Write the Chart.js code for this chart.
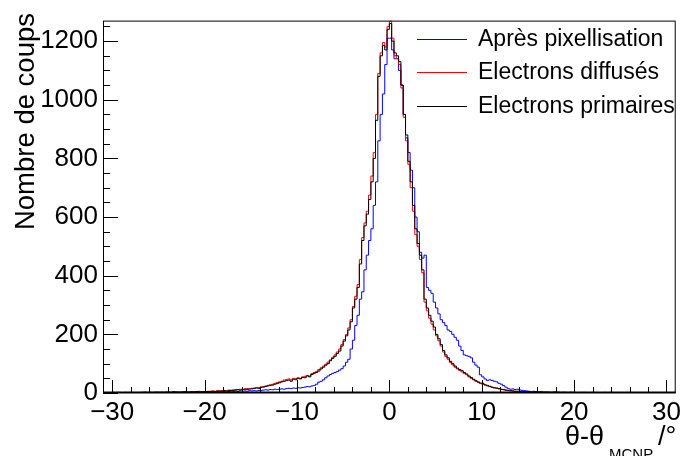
<!DOCTYPE html>
<html>
<head>
<meta charset="utf-8">
<script src="https://cdn.jsdelivr.net/npm/chart.js@4/dist/chart.umd.min.js"></script>
<style>
  html, body { margin: 0; padding: 0; background: #fff; }
  #wrap { width: 685px; height: 456px; }
</style>
</head>
<body>
<div id="wrap"><canvas id="hist" width="685" height="456"></canvas></div>
<script>
// histogram binning (degrees)
const binMin = -31;
const binWidth = 0.25;

const xTicks = [-30, -20, -10, 0, 10, 20, 30];
const yTicks = [0, 200, 400, 600, 800, 1000, 1200];

const seriesNames = ['Après pixellisation', 'Electrons diffusés', 'Electrons primaires'];

// counts per 0.25° bin, from -31° to +31°
const pixelCounts = [
  0,1,0,0,
  0,1,0,1,1,0,1,2,1,0, 1,1,0,2,1,1,2,1,1,2, 1,2,1,2,2,1,2,3,2,2, 3,2,2,3,2,3,3,2,4,3,
  3,4,3,4,3,5,4,4,5,4, 5,6,5,6,5,7,6,7,6,8,
  7,8,7,9,8,10,11,10,12,11,13,12,
  13,14,13,15,16,15,17,16,
  18,17,19,20,22,21,24,26,
  30,37,40,45,52,58,63,67,
  70,73,78,83,
  92,105,115,150,
  180,230,265,320,
  345,420,470,520,
  560,640,720,860,
  950,1020,1120,1210,
  1210,1170,1140,1140,
  1100,1050,950,870,
  820,760,700,600,
  550,480,460,470,
  360,350,340,310,
  290,270,250,240,
  230,215,210,200,
  190,180,160,145,
  130,127,125,120,
  105,95,88,62,
  55,48,43,45,
  43,40,38,33,
  30,25,20,15,
  13,14,12,13,
  10,9,8,7,
  6,5,6,5,4,5,4,3,4,3, 3,4,2,3,2,3,2,2,3,2,
  2,1,2,1,2,1,1,2,1,1, 0,1,1,2,1,0,1,1,0,1, 1,0,1,0,1,1,0,0,1,0, 1,0,0,1,0,1,0,0,1,0,
  0,0,1,0
];

const diffusedCounts = [
  1,1,0,1,
  2,1,1,2,1,2,2,1,1,2, 2,1,2,3,2,2,3,2,3,2, 3,2,3,4,3,3,4,3,4,3, 4,5,4,4,5,4,5,6,5,5,
  5,6,6,7,6,8,7,8,9,8, 10,9,11,12,11,13,12,14,15,14,
  16,17,19,18,21,22,24,26,28,30,33,36,
  38,40,44,46,48,45,50,49,
  52,50,55,57,60,58,66,70,
  74,80,86,92,98,105,113,122,
  130,140,150,165,
  182,200,222,250,
  295,330,370,455,
  530,580,620,675,
  740,820,950,1090,
  1160,1195,1180,1250,
  1268,1210,1150,1140,
  1120,1040,940,860,
  780,700,620,540,
  500,455,410,310,
  280,255,235,215,
  195,178,160,140,
  125,115,104,96,
  88,82,77,72,
  66,62,55,50,
  45,40,36,32,
  30,27,24,22,
  19,17,16,14,
  12,11,9,8,
  7,7,6,5,
  5,4,4,4,
  3,4,3,2,3,2,3,2,2,1, 2,2,1,2,1,1,2,1,1,1,
  1,0,1,1,2,0,1,1,0,1, 1,0,1,0,1,1,0,1,0,0, 1,0,1,0,0,1,0,0,1,0, 0,1,0,1,0,0,1,0,0,1,
  1,0,0,1
];

const primaryCounts = [
  1,0,1,0,
  1,0,2,1,1,2,1,0,2,1, 1,2,2,1,3,2,1,2,2,3, 2,3,2,2,3,2,4,3,2,3, 3,4,3,3,4,3,5,4,4,5,
  4,5,4,6,5,6,7,6,8,7, 8,9,8,10,11,10,12,13,12,14,
  14,15,17,16,19,20,22,24,26,27,30,32,
  35,38,40,42,44,40,47,45,
  50,48,53,52,58,55,63,67,
  70,75,82,88,95,100,110,118,
  125,135,143,160,
  177,195,215,243,
  290,320,360,440,
  520,570,610,660,
  720,800,930,1080,
  1150,1185,1170,1240,
  1260,1200,1160,1150,
  1130,1050,950,880,
  790,720,640,560,
  510,470,420,320,
  290,265,245,225,
  200,185,165,145,
  130,120,108,100,
  92,85,80,76,
  70,65,58,53,
  47,42,38,34,
  33,28,26,23,
  20,18,17,15,
  13,12,10,9,
  8,7,6,6,
  5,4,5,4,
  4,3,3,4,2,3,2,3,2,2, 1,2,3,1,2,1,2,1,1,2,
  1,1,0,2,1,1,0,1,2,1, 0,1,1,0,1,2,0,1,0,1, 1,0,0,1,1,0,1,0,0,1, 0,1,0,0,1,0,0,1,0,0,
  0,1,0,0
];

const FONT = '"Liberation Sans", Arial, Helvetica, sans-serif';

// bin edges -> points for a stepped line
function toSteps(counts) {
  const pts = counts.map((c, i) => ({ x: binMin + i * binWidth, y: c }));
  pts.push({ x: binMin + counts.length * binWidth, y: counts[counts.length - 1] });
  return pts;
}

function histSet(label, counts, color, order) {
  return {
    label,
    data: toSteps(counts),
    borderColor: color,
    borderWidth: 1,
    stepped: true,
    pointRadius: 0,
    fill: false,
    order,
  };
}

// ROOT-like frame, inner ticks, legend and axis titles
const rootDecor = {
  id: 'rootDecor',
  afterDraw(chart) {
    const { ctx, chartArea: a, scales: { x, y } } = chart;
    ctx.save();
    ctx.strokeStyle = '#000';
    ctx.lineWidth = 1;
    ctx.strokeRect(a.left + 0.5, a.top + 0.5, a.right - a.left - 1, a.bottom - a.top - 1);
    ctx.beginPath();
    ctx.moveTo(a.left, a.bottom - 0.5);
    ctx.lineTo(a.right, a.bottom - 0.5);
    ctx.lineWidth = 2;
    ctx.stroke();

    ctx.lineWidth = 1;
    ctx.beginPath();
    for (let v = 0; v <= y.max; v += 50) {
      const py = Math.round(y.getPixelForValue(v)) + 0.5;
      const len = v % 200 === 0 ? 15 : 7;
      ctx.moveTo(a.left, py);
      ctx.lineTo(a.left + len, py);
    }
    for (let v = -30; v <= 30; v += 2) {
      const px = Math.round(x.getPixelForValue(v)) + 0.5;
      const len = v % 10 === 0 ? 13 : 6;
      ctx.moveTo(px, a.bottom);
      ctx.lineTo(px, a.bottom - len);
    }
    ctx.stroke();

    // legend
    ctx.font = '23px ' + FONT;
    ctx.fillStyle = '#000';
    ctx.textAlign = 'left';
    ctx.textBaseline = 'middle';
    const rows = [39, 72, 106];
    chart.data.datasets.forEach((ds, i) => {
      ctx.beginPath();
      ctx.strokeStyle = ds.borderColor;
      ctx.moveTo(417, rows[i] + 0.5);
      ctx.lineTo(467, rows[i] + 0.5);
      ctx.stroke();
      ctx.fillText(ds.label, 478, rows[i] + 1);
    });

    // y title
    ctx.save();
    ctx.translate(26, 13);
    ctx.rotate(-Math.PI / 2);
    ctx.font = '27.5px ' + FONT;
    ctx.textAlign = 'right';
    ctx.textBaseline = 'middle';
    ctx.fillText('Nombre de coups', 0, 0);
    ctx.restore();

    // x title: θ-θ_MCNP /°
    const big = '27px ' + FONT, small = '15px ' + FONT;
    ctx.textAlign = 'left';
    ctx.textBaseline = 'alphabetic';
    ctx.font = big;
    ctx.fillText('θ-θ', 565, 445);
    ctx.font = small;
    ctx.fillText('MCNP', 609, 459);
    ctx.font = big;
    ctx.fillText('/°', 658, 445);
    ctx.restore();
  },
};

new Chart(document.getElementById('hist'), {
  type: 'line',
  data: {
    datasets: [
      histSet(seriesNames[0], pixelCounts, '#0000ff', 2),
      histSet(seriesNames[1], diffusedCounts, '#ff0000', 1),
      histSet(seriesNames[2], primaryCounts, '#000000', 0),
    ],
  },
  options: {
    responsive: false,
    animation: false,
    devicePixelRatio: 1,
    layout: { padding: { top: 12, right: 4, left: 0, bottom: 0 } },
    plugins: { legend: { display: false }, tooltip: { enabled: false } },
    scales: {
      x: {
        type: 'linear',
        min: -31,
        max: 31,
        afterBuildTicks: (s) => { s.ticks = xTicks.map((v) => ({ value: v })); },
        afterFit: (s) => { s.height = 63; },
        grid: { display: false, drawTicks: false },
        border: { display: false },
        ticks: {
          autoSkip: false,
          maxRotation: 0,
          padding: 4,
          color: '#000',
          font: { family: FONT, size: 26 },
          callback: (v) => String(v).replace('-', '\u2212'),
        },
      },
      y: {
        min: 0,
        max: 1270,
        afterBuildTicks: (s) => { s.ticks = yTicks.map((v) => ({ value: v })); },
        afterFit: (s) => { s.width = 103; },
        grid: { display: false, drawTicks: false },
        border: { display: false },
        ticks: {
          autoSkip: false,
          padding: 5,
          color: '#000',
          font: { family: FONT, size: 26 },
          callback: (v) => String(v),
        },
      },
    },
  },
  plugins: [rootDecor],
});
</script>
</body>
</html>
